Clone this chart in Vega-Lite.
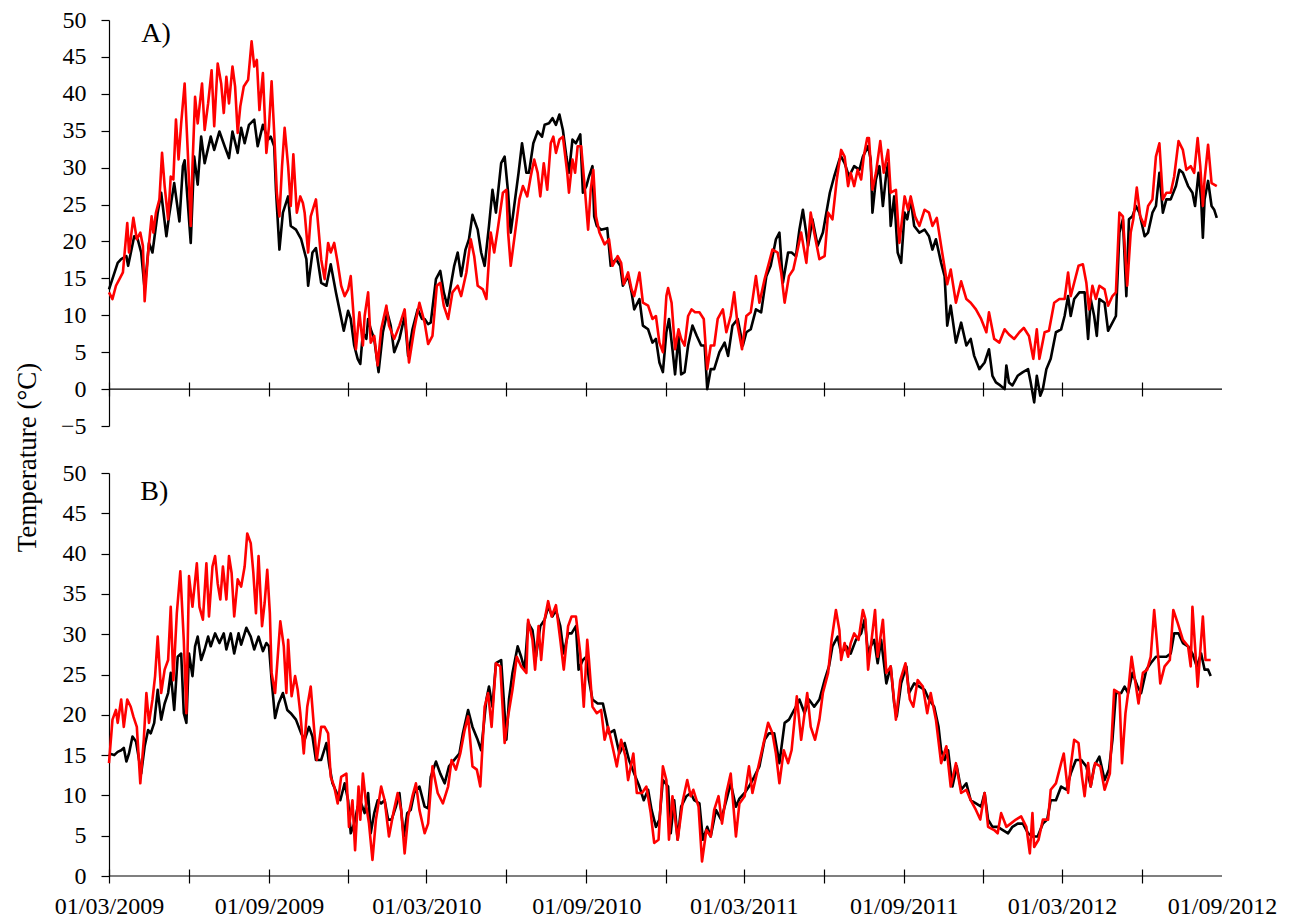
{
  "$schema": "https://vega.github.io/schema/vega-lite/v6.json",
  "background": "white",
  "padding": {"left": 13, "top": 8, "right": 5, "bottom": 5},
  "bounds": "flush",
  "spacing": 47,
  "config": {
    "view": {"stroke": null},
    "font": "Liberation Serif",
    "axis": {
      "labelFont": "Liberation Serif",
      "labelFontSize": 24,
      "labelColor": "black",
      "tickColor": "black",
      "domainColor": "black",
      "tickWidth": 1.2,
      "domainWidth": 1.2,
      "grid": false,
      "labelOverlap": false,
      "titleFont": "Liberation Serif",
      "titleFontWeight": "normal",
      "titleColor": "black"
    }
  },
  "datasets": {
    "aBlack": [{"d":0,"t":13.5},{"d":10,"t":17.1},{"d":14,"t":17.6},{"d":20,"t":18},{"d":22,"t":16.7},{"d":29,"t":20.7},{"d":33,"t":20.3},{"d":37,"t":18.5},{"d":41,"t":13.5},{"d":46,"t":19.8},{"d":50,"t":18.5},{"d":52,"t":20.3},{"d":56,"t":23.9},{"d":60,"t":26.6},{"d":66,"t":20.7},{"d":69,"t":23.4},{"d":75,"t":27.9},{"d":81,"t":22.7},{"d":85,"t":30.2},{"d":87,"t":31},{"d":94,"t":19.8},{"d":98,"t":31.5},{"d":102,"t":27.7},{"d":106,"t":34.2},{"d":110,"t":30.6},{"d":117,"t":34.2},{"d":121,"t":32.4},{"d":127,"t":34.9},{"d":133,"t":32.9},{"d":138,"t":31.3},{"d":142,"t":34.9},{"d":148,"t":32},{"d":152,"t":35.4},{"d":156,"t":33.3},{"d":161,"t":35.8},{"d":167,"t":36.5},{"d":171,"t":32.9},{"d":177,"t":35.8},{"d":183,"t":33.8},{"d":186,"t":34.2},{"d":190,"t":32.9},{"d":192,"t":27},{"d":196,"t":18.9},{"d":200,"t":23.9},{"d":206,"t":26.1},{"d":209,"t":22.1},{"d":215,"t":21.6},{"d":221,"t":20.3},{"d":227,"t":17.6},{"d":229,"t":14},{"d":234,"t":18.5},{"d":238,"t":19.1},{"d":244,"t":14.4},{"d":250,"t":14},{"d":255,"t":16.9},{"d":261,"t":13.1},{"d":265,"t":10.8},{"d":270,"t":7.9},{"d":275,"t":10.6},{"d":278,"t":9.5},{"d":282,"t":5.9},{"d":286,"t":4.1},{"d":289,"t":3.4},{"d":292,"t":7.7},{"d":296,"t":6.8},{"d":298,"t":9.5},{"d":301,"t":8.1},{"d":305,"t":6.8},{"d":310,"t":2.3},{"d":315,"t":7.7},{"d":320,"t":10.4},{"d":324,"t":8.6},{"d":328,"t":5},{"d":334,"t":6.8},{"d":340,"t":9.9},{"d":344,"t":4.5},{"d":349,"t":8.1},{"d":355,"t":10.8},{"d":360,"t":9.5},{"d":363,"t":9.5},{"d":367,"t":8.8},{"d":370,"t":9},{"d":376,"t":14.9},{"d":381,"t":16},{"d":385,"t":13.1},{"d":389,"t":11.3},{"d":393,"t":14},{"d":397,"t":16.7},{"d":401,"t":18.5},{"d":405,"t":15.3},{"d":410,"t":18.9},{"d":414,"t":20.3},{"d":418,"t":23.6},{"d":424,"t":21.6},{"d":428,"t":18.5},{"d":432,"t":16.7},{"d":437,"t":22.1},{"d":441,"t":27},{"d":445,"t":23.9},{"d":451,"t":30.6},{"d":455,"t":31.5},{"d":459,"t":26.6},{"d":462,"t":21.2},{"d":466,"t":24.8},{"d":471,"t":29.3},{"d":475,"t":33.3},{"d":480,"t":29.3},{"d":483,"t":29.3},{"d":488,"t":33.3},{"d":493,"t":34.9},{"d":498,"t":34.2},{"d":501,"t":35.8},{"d":506,"t":36},{"d":510,"t":36.7},{"d":514,"t":35.8},{"d":518,"t":37.2},{"d":522,"t":35.1},{"d":526,"t":31.5},{"d":529,"t":29.3},{"d":533,"t":33.8},{"d":537,"t":33.3},{"d":542,"t":34.5},{"d":545,"t":26.6},{"d":549,"t":27.5},{"d":552,"t":28.8},{"d":556,"t":30.2},{"d":558,"t":23.4},{"d":561,"t":22.1},{"d":566,"t":21.6},{"d":573,"t":21.8},{"d":577,"t":16.7},{"d":583,"t":17.6},{"d":588,"t":16.7},{"d":591,"t":14},{"d":597,"t":15.3},{"d":601,"t":13.1},{"d":604,"t":10.8},{"d":610,"t":12.2},{"d":614,"t":8.6},{"d":620,"t":8.1},{"d":625,"t":6.3},{"d":629,"t":6.8},{"d":633,"t":3.6},{"d":637,"t":2.3},{"d":641,"t":7.7},{"d":644,"t":9.5},{"d":648,"t":5.4},{"d":651,"t":2},{"d":655,"t":7.2},{"d":658,"t":2},{"d":662,"t":2.3},{"d":666,"t":5.9},{"d":671,"t":8.6},{"d":676,"t":7.2},{"d":681,"t":5.9},{"d":685,"t":5.9},{"d":688,"t":0},{"d":692,"t":2.7},{"d":696,"t":2.7},{"d":702,"t":5},{"d":708,"t":6.3},{"d":712,"t":4.5},{"d":717,"t":8.6},{"d":723,"t":9.5},{"d":729,"t":5.9},{"d":733,"t":7.7},{"d":738,"t":8.1},{"d":744,"t":10.8},{"d":750,"t":10.4},{"d":756,"t":15.3},{"d":761,"t":16.7},{"d":767,"t":20.3},{"d":771,"t":21.2},{"d":775,"t":14.4},{"d":781,"t":18.5},{"d":785,"t":18.5},{"d":790,"t":18},{"d":794,"t":21.6},{"d":798,"t":24.3},{"d":804,"t":19.4},{"d":809,"t":23},{"d":815,"t":19.4},{"d":821,"t":21.2},{"d":825,"t":23.9},{"d":829,"t":26.6},{"d":834,"t":28.8},{"d":840,"t":31.1},{"d":842,"t":31.5},{"d":846,"t":30.6},{"d":851,"t":28.8},{"d":857,"t":30.2},{"d":863,"t":29.7},{"d":867,"t":31.5},{"d":873,"t":32.9},{"d":876,"t":31.1},{"d":878,"t":23.9},{"d":882,"t":28.4},{"d":886,"t":30.2},{"d":890,"t":24.8},{"d":894,"t":29.3},{"d":896,"t":30.6},{"d":899,"t":22.1},{"d":903,"t":26.1},{"d":907,"t":18.5},{"d":911,"t":17.1},{"d":915,"t":23.9},{"d":918,"t":23},{"d":922,"t":25.7},{"d":926,"t":22.1},{"d":932,"t":21.2},{"d":938,"t":21.6},{"d":943,"t":20.7},{"d":947,"t":18.9},{"d":951,"t":20.3},{"d":957,"t":17.1},{"d":961,"t":15.3},{"d":964,"t":8.6},{"d":968,"t":11.3},{"d":974,"t":6.3},{"d":980,"t":9},{"d":986,"t":5.9},{"d":991,"t":6.8},{"d":995,"t":4.5},{"d":1001,"t":2.7},{"d":1007,"t":3.6},{"d":1012,"t":5.4},{"d":1016,"t":1.8},{"d":1020,"t":0.9},{"d":1025,"t":0.5},{"d":1030,"t":0},{"d":1032,"t":3.2},{"d":1035,"t":0.9},{"d":1039,"t":0.5},{"d":1045,"t":1.8},{"d":1051,"t":2.3},{"d":1057,"t":2.7},{"d":1060,"t":0.9},{"d":1064,"t":-1.8},{"d":1067,"t":1.8},{"d":1071,"t":-0.9},{"d":1074,"t":0},{"d":1078,"t":2.7},{"d":1083,"t":4.1},{"d":1089,"t":7.7},{"d":1095,"t":8.1},{"d":1099,"t":9.9},{"d":1103,"t":12.6},{"d":1106,"t":9.9},{"d":1110,"t":12.2},{"d":1116,"t":13.1},{"d":1122,"t":13.1},{"d":1126,"t":6.8},{"d":1129,"t":12.2},{"d":1133,"t":9.9},{"d":1136,"t":7.2},{"d":1139,"t":12.2},{"d":1145,"t":11.7},{"d":1149,"t":7.9},{"d":1154,"t":9},{"d":1158,"t":9.9},{"d":1162,"t":21.2},{"d":1166,"t":23},{"d":1170,"t":12.6},{"d":1173,"t":23},{"d":1177,"t":23.4},{"d":1181,"t":24.8},{"d":1185,"t":23.9},{"d":1191,"t":20.7},{"d":1195,"t":21.2},{"d":1200,"t":23.9},{"d":1204,"t":24.8},{"d":1208,"t":29.3},{"d":1212,"t":23.9},{"d":1216,"t":25.7},{"d":1221,"t":25.7},{"d":1227,"t":27.5},{"d":1231,"t":29.7},{"d":1235,"t":29.3},{"d":1241,"t":27.5},{"d":1246,"t":26.6},{"d":1249,"t":24.8},{"d":1253,"t":29.3},{"d":1256,"t":25.7},{"d":1258,"t":20.5},{"d":1260,"t":25.7},{"d":1264,"t":28.2},{"d":1268,"t":24.8},{"d":1271,"t":24.3},{"d":1274,"t":23.2}],
    "aRed": [{"d":0,"t":13.1},{"d":4,"t":12.2},{"d":8,"t":14},{"d":12,"t":14.9},{"d":16,"t":15.8},{"d":21,"t":22.5},{"d":23,"t":18.5},{"d":28,"t":23.2},{"d":32,"t":20.3},{"d":36,"t":21.2},{"d":39,"t":19.4},{"d":41,"t":11.9},{"d":45,"t":18.5},{"d":49,"t":23.4},{"d":51,"t":21.2},{"d":54,"t":23.9},{"d":58,"t":25.7},{"d":61,"t":32},{"d":64,"t":27.5},{"d":68,"t":23},{"d":71,"t":28.8},{"d":74,"t":28.4},{"d":77,"t":36.5},{"d":80,"t":31.1},{"d":83,"t":36},{"d":87,"t":41.4},{"d":91,"t":31.1},{"d":94,"t":22.1},{"d":96,"t":30.2},{"d":99,"t":39.6},{"d":102,"t":36},{"d":107,"t":41.4},{"d":110,"t":35.1},{"d":114,"t":38.7},{"d":118,"t":43.2},{"d":121,"t":35.6},{"d":125,"t":44.1},{"d":129,"t":41.4},{"d":132,"t":37.4},{"d":135,"t":42.3},{"d":138,"t":38.7},{"d":142,"t":43.7},{"d":145,"t":41},{"d":148,"t":34.7},{"d":151,"t":38.3},{"d":155,"t":41},{"d":160,"t":41.9},{"d":164,"t":47.1},{"d":167,"t":43.7},{"d":170,"t":44.6},{"d":173,"t":37.8},{"d":177,"t":42.8},{"d":181,"t":32},{"d":184,"t":35.6},{"d":187,"t":41.7},{"d":190,"t":34.7},{"d":193,"t":26.6},{"d":196,"t":23.4},{"d":199,"t":30.2},{"d":202,"t":35.4},{"d":206,"t":30.2},{"d":209,"t":24.8},{"d":212,"t":31.8},{"d":216,"t":23.9},{"d":220,"t":26.1},{"d":223,"t":25.2},{"d":225,"t":23.9},{"d":229,"t":18.5},{"d":232,"t":23.4},{"d":238,"t":25.7},{"d":244,"t":17.6},{"d":248,"t":14.9},{"d":252,"t":19.8},{"d":255,"t":18.5},{"d":259,"t":19.8},{"d":263,"t":17.1},{"d":267,"t":14},{"d":271,"t":12.6},{"d":275,"t":13.5},{"d":278,"t":15.3},{"d":281,"t":10.4},{"d":284,"t":5.4},{"d":288,"t":10.4},{"d":292,"t":5.9},{"d":294,"t":9.9},{"d":298,"t":13.1},{"d":301,"t":6.3},{"d":305,"t":7.2},{"d":309,"t":3.2},{"d":313,"t":8.1},{"d":319,"t":11.3},{"d":322,"t":8.6},{"d":328,"t":6.8},{"d":334,"t":8.6},{"d":340,"t":10.8},{"d":345,"t":3.6},{"d":351,"t":8.1},{"d":357,"t":11.7},{"d":363,"t":9},{"d":367,"t":6.1},{"d":372,"t":7.2},{"d":377,"t":14},{"d":381,"t":14.4},{"d":385,"t":11.3},{"d":390,"t":9.5},{"d":395,"t":13.1},{"d":401,"t":14},{"d":405,"t":12.6},{"d":411,"t":15.8},{"d":416,"t":20.3},{"d":420,"t":18},{"d":424,"t":14},{"d":430,"t":13.5},{"d":434,"t":12.2},{"d":439,"t":21.2},{"d":443,"t":18.5},{"d":447,"t":21.6},{"d":453,"t":26.6},{"d":457,"t":27},{"d":459,"t":21.2},{"d":462,"t":16.7},{"d":467,"t":21.2},{"d":472,"t":25.7},{"d":476,"t":27.5},{"d":481,"t":26.1},{"d":485,"t":28.8},{"d":489,"t":31.1},{"d":493,"t":29.3},{"d":496,"t":26.1},{"d":500,"t":30.6},{"d":504,"t":27},{"d":508,"t":33.3},{"d":511,"t":34.2},{"d":514,"t":32},{"d":518,"t":33.8},{"d":522,"t":34.2},{"d":527,"t":29.3},{"d":529,"t":26.6},{"d":533,"t":31.1},{"d":536,"t":29.3},{"d":539,"t":32.9},{"d":543,"t":32.9},{"d":547,"t":27.5},{"d":551,"t":21.6},{"d":554,"t":27},{"d":557,"t":29.7},{"d":560,"t":23.4},{"d":564,"t":21.2},{"d":570,"t":19.6},{"d":575,"t":20.3},{"d":579,"t":16.7},{"d":585,"t":18},{"d":589,"t":17.1},{"d":592,"t":14.2},{"d":597,"t":15.8},{"d":601,"t":13.5},{"d":604,"t":12.6},{"d":610,"t":15.8},{"d":614,"t":11.7},{"d":620,"t":11.3},{"d":625,"t":9.5},{"d":629,"t":9.9},{"d":633,"t":6.3},{"d":637,"t":5},{"d":641,"t":12.6},{"d":643,"t":13.7},{"d":647,"t":11.7},{"d":651,"t":5.4},{"d":655,"t":8.1},{"d":658,"t":6.8},{"d":662,"t":5.9},{"d":666,"t":9.9},{"d":670,"t":10.8},{"d":674,"t":10.4},{"d":679,"t":10.4},{"d":684,"t":9.5},{"d":688,"t":2.7},{"d":692,"t":5.9},{"d":696,"t":5.9},{"d":700,"t":9.5},{"d":706,"t":10.8},{"d":710,"t":7.7},{"d":715,"t":9.9},{"d":719,"t":13.1},{"d":723,"t":8.6},{"d":728,"t":5.4},{"d":733,"t":9.9},{"d":738,"t":10.4},{"d":744,"t":15.3},{"d":748,"t":11.7},{"d":754,"t":14.9},{"d":759,"t":17.1},{"d":763,"t":18.9},{"d":769,"t":18.5},{"d":773,"t":15.8},{"d":777,"t":11.7},{"d":782,"t":15.3},{"d":787,"t":16.2},{"d":792,"t":18.9},{"d":796,"t":21.2},{"d":802,"t":17.1},{"d":807,"t":23.9},{"d":811,"t":21.2},{"d":817,"t":17.6},{"d":823,"t":18},{"d":827,"t":23.9},{"d":832,"t":23},{"d":837,"t":28.4},{"d":842,"t":32.4},{"d":846,"t":31.5},{"d":850,"t":27.5},{"d":853,"t":29.3},{"d":857,"t":27.5},{"d":861,"t":29.7},{"d":865,"t":28.4},{"d":868,"t":31.5},{"d":872,"t":34},{"d":874,"t":34},{"d":878,"t":27},{"d":882,"t":29.3},{"d":887,"t":33.6},{"d":891,"t":29.3},{"d":896,"t":32.4},{"d":899,"t":26.6},{"d":905,"t":27},{"d":909,"t":19.8},{"d":915,"t":26.1},{"d":919,"t":24.3},{"d":922,"t":26.1},{"d":927,"t":23.4},{"d":932,"t":22.1},{"d":938,"t":24.3},{"d":943,"t":23.9},{"d":947,"t":22.1},{"d":952,"t":23.2},{"d":957,"t":19.4},{"d":964,"t":14.2},{"d":968,"t":16.2},{"d":974,"t":11.7},{"d":980,"t":14.6},{"d":986,"t":12.2},{"d":991,"t":11.7},{"d":997,"t":10.8},{"d":1003,"t":9.5},{"d":1009,"t":7.7},{"d":1012,"t":10.4},{"d":1018,"t":6.8},{"d":1024,"t":6.3},{"d":1030,"t":8.1},{"d":1035,"t":7.4},{"d":1041,"t":6.8},{"d":1047,"t":7.7},{"d":1052,"t":8.3},{"d":1058,"t":7.2},{"d":1063,"t":4.1},{"d":1067,"t":8.1},{"d":1070,"t":4.1},{"d":1076,"t":7.7},{"d":1081,"t":7.9},{"d":1087,"t":11.7},{"d":1093,"t":12.2},{"d":1099,"t":12.2},{"d":1103,"t":15.8},{"d":1106,"t":12.6},{"d":1110,"t":14.4},{"d":1115,"t":16.7},{"d":1120,"t":16.9},{"d":1124,"t":14.4},{"d":1127,"t":10.8},{"d":1131,"t":14},{"d":1135,"t":12.2},{"d":1139,"t":14},{"d":1145,"t":13.5},{"d":1149,"t":11.3},{"d":1154,"t":12.6},{"d":1158,"t":13.1},{"d":1162,"t":23.9},{"d":1166,"t":23.4},{"d":1171,"t":14},{"d":1175,"t":21.2},{"d":1178,"t":23},{"d":1182,"t":27.3},{"d":1186,"t":23.4},{"d":1191,"t":22.1},{"d":1195,"t":24.8},{"d":1200,"t":25.7},{"d":1204,"t":31.5},{"d":1208,"t":33.3},{"d":1212,"t":25.7},{"d":1216,"t":26.6},{"d":1221,"t":26.6},{"d":1225,"t":28.8},{"d":1230,"t":33.6},{"d":1235,"t":32.4},{"d":1239,"t":29.7},{"d":1244,"t":30.2},{"d":1248,"t":29.3},{"d":1252,"t":34},{"d":1255,"t":30.2},{"d":1258,"t":24.8},{"d":1260,"t":28.4},{"d":1264,"t":33.1},{"d":1268,"t":27.9},{"d":1274,"t":27.5}],
    "bBlack": [{"d":0,"t":15.2},{"d":6,"t":15},{"d":10,"t":15.4},{"d":14,"t":15.6},{"d":17,"t":15.9},{"d":20,"t":14.2},{"d":23,"t":15.2},{"d":27,"t":17.3},{"d":31,"t":16.7},{"d":34,"t":14.8},{"d":37,"t":12.7},{"d":41,"t":16.1},{"d":45,"t":18.1},{"d":48,"t":17.7},{"d":52,"t":19},{"d":56,"t":23.1},{"d":60,"t":19.4},{"d":64,"t":21.4},{"d":68,"t":22.7},{"d":71,"t":25.2},{"d":75,"t":20.6},{"d":79,"t":27.2},{"d":83,"t":27.6},{"d":86,"t":20.2},{"d":89,"t":19},{"d":92,"t":27.6},{"d":96,"t":24.8},{"d":99,"t":28.5},{"d":102,"t":29.7},{"d":106,"t":26.8},{"d":110,"t":28.1},{"d":114,"t":29.7},{"d":117,"t":28.5},{"d":122,"t":30.1},{"d":127,"t":28.9},{"d":132,"t":30.1},{"d":135,"t":28.1},{"d":140,"t":30.1},{"d":144,"t":27.6},{"d":149,"t":30.1},{"d":152,"t":28.7},{"d":158,"t":30.8},{"d":163,"t":29.7},{"d":167,"t":28.1},{"d":172,"t":29.7},{"d":177,"t":27.9},{"d":181,"t":28.9},{"d":184,"t":28.5},{"d":187,"t":24.3},{"d":191,"t":19.6},{"d":195,"t":21.4},{"d":200,"t":22.7},{"d":205,"t":20.6},{"d":209,"t":20.2},{"d":215,"t":19.4},{"d":221,"t":17.7},{"d":225,"t":16.9},{"d":230,"t":18.5},{"d":234,"t":17.3},{"d":238,"t":14.4},{"d":244,"t":14.4},{"d":250,"t":16.5},{"d":253,"t":14},{"d":257,"t":11.5},{"d":262,"t":10.3},{"d":266,"t":9.4},{"d":271,"t":11.5},{"d":275,"t":9.4},{"d":278,"t":5.3},{"d":282,"t":6.5},{"d":286,"t":8.6},{"d":290,"t":9},{"d":294,"t":7.8},{"d":298,"t":10.3},{"d":301,"t":5.3},{"d":305,"t":7.8},{"d":309,"t":9.4},{"d":313,"t":9},{"d":317,"t":9.4},{"d":321,"t":7},{"d":325,"t":7},{"d":330,"t":8.6},{"d":334,"t":10.3},{"d":339,"t":4.9},{"d":343,"t":7.8},{"d":347,"t":8.2},{"d":351,"t":10.3},{"d":357,"t":11.1},{"d":363,"t":8.6},{"d":367,"t":8.4},{"d":370,"t":12.3},{"d":376,"t":14.2},{"d":381,"t":12.7},{"d":386,"t":11.5},{"d":391,"t":13.6},{"d":397,"t":14.4},{"d":403,"t":15.2},{"d":407,"t":17.7},{"d":413,"t":20.6},{"d":418,"t":18.5},{"d":424,"t":16.9},{"d":428,"t":15.6},{"d":434,"t":21.9},{"d":437,"t":23.5},{"d":441,"t":21},{"d":445,"t":26.4},{"d":451,"t":26.8},{"d":457,"t":16.9},{"d":460,"t":21.9},{"d":464,"t":25.2},{"d":470,"t":28.5},{"d":474,"t":27.2},{"d":478,"t":25.6},{"d":482,"t":31.4},{"d":487,"t":30.5},{"d":491,"t":27.2},{"d":496,"t":31},{"d":501,"t":31.8},{"d":505,"t":33.4},{"d":510,"t":32.2},{"d":514,"t":33},{"d":519,"t":31},{"d":523,"t":27.6},{"d":528,"t":30.1},{"d":532,"t":30.1},{"d":537,"t":31},{"d":540,"t":25.6},{"d":545,"t":26.8},{"d":549,"t":27.2},{"d":552,"t":24.3},{"d":556,"t":21.9},{"d":562,"t":21.4},{"d":568,"t":21.4},{"d":572,"t":19.4},{"d":575,"t":17.7},{"d":581,"t":18.1},{"d":587,"t":15.2},{"d":593,"t":16.5},{"d":598,"t":14.4},{"d":604,"t":12.7},{"d":610,"t":11.1},{"d":615,"t":9.4},{"d":620,"t":10.7},{"d":624,"t":8.2},{"d":629,"t":6.1},{"d":633,"t":7},{"d":637,"t":11.9},{"d":643,"t":11.1},{"d":646,"t":5.3},{"d":650,"t":9.4},{"d":654,"t":4.5},{"d":658,"t":8.6},{"d":664,"t":9.9},{"d":669,"t":10.3},{"d":673,"t":9.4},{"d":679,"t":9},{"d":683,"t":4.5},{"d":688,"t":6.1},{"d":692,"t":4.9},{"d":698,"t":8.2},{"d":704,"t":7},{"d":710,"t":9.4},{"d":715,"t":11.5},{"d":721,"t":8.6},{"d":725,"t":9.6},{"d":731,"t":10.3},{"d":736,"t":11.1},{"d":742,"t":12.3},{"d":748,"t":13.6},{"d":754,"t":16.9},{"d":759,"t":17.7},{"d":765,"t":17.7},{"d":771,"t":14},{"d":777,"t":19},{"d":782,"t":19.4},{"d":788,"t":20.6},{"d":794,"t":21.9},{"d":800,"t":20.2},{"d":805,"t":21.9},{"d":811,"t":21},{"d":817,"t":21.9},{"d":823,"t":24.3},{"d":828,"t":26},{"d":832,"t":28.5},{"d":838,"t":29.7},{"d":842,"t":27.6},{"d":848,"t":28.5},{"d":853,"t":27.6},{"d":859,"t":29.3},{"d":865,"t":30.1},{"d":869,"t":31.8},{"d":873,"t":27.6},{"d":876,"t":28.5},{"d":880,"t":29.3},{"d":884,"t":26.4},{"d":888,"t":29.3},{"d":894,"t":23.9},{"d":899,"t":26},{"d":903,"t":21.4},{"d":906,"t":19.8},{"d":911,"t":23.9},{"d":917,"t":26},{"d":920,"t":22.7},{"d":926,"t":23.9},{"d":932,"t":23.5},{"d":938,"t":23.1},{"d":943,"t":21.9},{"d":949,"t":21},{"d":954,"t":18.5},{"d":957,"t":15.6},{"d":961,"t":14.4},{"d":965,"t":15.6},{"d":970,"t":11.1},{"d":975,"t":13.6},{"d":980,"t":10.7},{"d":986,"t":11.5},{"d":991,"t":9.4},{"d":997,"t":9},{"d":1003,"t":8.6},{"d":1007,"t":10.3},{"d":1011,"t":7},{"d":1016,"t":6.1},{"d":1022,"t":6.1},{"d":1028,"t":5.7},{"d":1034,"t":5.3},{"d":1039,"t":6.1},{"d":1045,"t":6.5},{"d":1051,"t":6.5},{"d":1057,"t":5.3},{"d":1062,"t":4.9},{"d":1068,"t":4.9},{"d":1074,"t":6.5},{"d":1079,"t":7},{"d":1083,"t":9.4},{"d":1089,"t":9.4},{"d":1095,"t":11.1},{"d":1101,"t":10.7},{"d":1106,"t":12.7},{"d":1112,"t":14.4},{"d":1118,"t":14.4},{"d":1124,"t":13.6},{"d":1129,"t":11.1},{"d":1133,"t":13.6},{"d":1139,"t":14.8},{"d":1145,"t":11.9},{"d":1150,"t":13.2},{"d":1154,"t":16.9},{"d":1158,"t":22.7},{"d":1164,"t":22.7},{"d":1168,"t":23.5},{"d":1172,"t":22.7},{"d":1177,"t":25.2},{"d":1183,"t":23.5},{"d":1187,"t":22.7},{"d":1193,"t":25.6},{"d":1198,"t":26.4},{"d":1204,"t":27.2},{"d":1210,"t":27.2},{"d":1216,"t":27.2},{"d":1221,"t":27.6},{"d":1225,"t":30.1},{"d":1230,"t":30.1},{"d":1235,"t":28.9},{"d":1241,"t":28.5},{"d":1246,"t":27.6},{"d":1251,"t":26},{"d":1256,"t":27.6},{"d":1260,"t":25.6},{"d":1264,"t":25.6},{"d":1267,"t":24.8}],
    "bRed": [{"d":0,"t":14},{"d":4,"t":19.4},{"d":8,"t":20.6},{"d":10,"t":19},{"d":14,"t":21.9},{"d":17,"t":18.5},{"d":21,"t":21.9},{"d":25,"t":21},{"d":28,"t":19.8},{"d":32,"t":18.5},{"d":36,"t":11.5},{"d":40,"t":16.9},{"d":43,"t":22.7},{"d":46,"t":19},{"d":50,"t":21.9},{"d":53,"t":24.8},{"d":56,"t":29.7},{"d":60,"t":22.7},{"d":64,"t":25.6},{"d":68,"t":26.8},{"d":71,"t":33.4},{"d":74,"t":24.3},{"d":78,"t":32.6},{"d":82,"t":37.8},{"d":86,"t":29.3},{"d":89,"t":20.2},{"d":92,"t":37.2},{"d":96,"t":33.4},{"d":101,"t":38.8},{"d":104,"t":33.4},{"d":108,"t":31.8},{"d":112,"t":38.8},{"d":115,"t":32.2},{"d":119,"t":38.4},{"d":122,"t":39.7},{"d":125,"t":36.3},{"d":128,"t":34.3},{"d":131,"t":38.4},{"d":135,"t":34.3},{"d":138,"t":39.7},{"d":141,"t":37.6},{"d":144,"t":32.2},{"d":148,"t":36.8},{"d":152,"t":35.9},{"d":156,"t":38.4},{"d":159,"t":42.5},{"d":163,"t":41.3},{"d":166,"t":37.6},{"d":169,"t":32.6},{"d":172,"t":39.7},{"d":176,"t":31},{"d":179,"t":33.9},{"d":182,"t":38},{"d":185,"t":32.6},{"d":187,"t":25.2},{"d":191,"t":22.7},{"d":197,"t":31.6},{"d":201,"t":28.5},{"d":204,"t":22.7},{"d":206,"t":29.3},{"d":210,"t":22.3},{"d":214,"t":24.8},{"d":217,"t":23.1},{"d":220,"t":20.2},{"d":224,"t":15.2},{"d":228,"t":21},{"d":232,"t":23.5},{"d":236,"t":18.1},{"d":239,"t":14.4},{"d":244,"t":18.5},{"d":248,"t":18.5},{"d":252,"t":17.7},{"d":255,"t":12.3},{"d":259,"t":11.1},{"d":263,"t":9},{"d":267,"t":12.3},{"d":273,"t":12.7},{"d":276,"t":6.1},{"d":280,"t":9.4},{"d":283,"t":3.2},{"d":287,"t":11.1},{"d":289,"t":7},{"d":292,"t":12.7},{"d":296,"t":8.6},{"d":299,"t":6.5},{"d":303,"t":2},{"d":307,"t":7},{"d":313,"t":11.1},{"d":317,"t":9.4},{"d":322,"t":4.9},{"d":327,"t":7.8},{"d":332,"t":10.3},{"d":336,"t":8.2},{"d":340,"t":2.8},{"d":344,"t":7.4},{"d":349,"t":9.9},{"d":353,"t":11.5},{"d":357,"t":8.2},{"d":363,"t":5.3},{"d":367,"t":6.5},{"d":372,"t":13.6},{"d":378,"t":10.3},{"d":384,"t":9},{"d":390,"t":11.1},{"d":394,"t":14.4},{"d":399,"t":13.2},{"d":404,"t":15.2},{"d":409,"t":18.1},{"d":413,"t":19.8},{"d":418,"t":13.6},{"d":423,"t":13.2},{"d":427,"t":11.1},{"d":432,"t":21},{"d":436,"t":22.7},{"d":440,"t":18.5},{"d":445,"t":26.4},{"d":450,"t":26},{"d":455,"t":16.5},{"d":459,"t":19.8},{"d":464,"t":23.1},{"d":469,"t":27.2},{"d":474,"t":26},{"d":480,"t":25.2},{"d":482,"t":31.8},{"d":487,"t":29.3},{"d":490,"t":25.6},{"d":494,"t":31},{"d":497,"t":26.8},{"d":501,"t":31.8},{"d":505,"t":34.1},{"d":509,"t":32.2},{"d":514,"t":33.6},{"d":519,"t":29.3},{"d":523,"t":25.6},{"d":528,"t":31},{"d":532,"t":32.2},{"d":537,"t":32.2},{"d":542,"t":27.6},{"d":546,"t":21},{"d":550,"t":29.3},{"d":552,"t":26.8},{"d":556,"t":21},{"d":561,"t":20.2},{"d":566,"t":20.6},{"d":570,"t":16.9},{"d":574,"t":18.5},{"d":579,"t":16.1},{"d":584,"t":13.6},{"d":589,"t":16.9},{"d":594,"t":14.8},{"d":597,"t":11.9},{"d":603,"t":15.2},{"d":607,"t":10.3},{"d":613,"t":10.3},{"d":618,"t":11.1},{"d":623,"t":7.8},{"d":627,"t":4.1},{"d":632,"t":4.5},{"d":637,"t":13.6},{"d":641,"t":11.9},{"d":644,"t":4.5},{"d":648,"t":9.9},{"d":654,"t":4.5},{"d":660,"t":9.4},{"d":665,"t":11.9},{"d":669,"t":9.9},{"d":672,"t":10.7},{"d":678,"t":8.6},{"d":682,"t":1.8},{"d":687,"t":5.7},{"d":692,"t":4.9},{"d":696,"t":8.2},{"d":701,"t":9.9},{"d":705,"t":6.5},{"d":710,"t":10.3},{"d":715,"t":12.7},{"d":721,"t":4.9},{"d":725,"t":9},{"d":731,"t":9.9},{"d":736,"t":13.6},{"d":740,"t":10.3},{"d":746,"t":13.2},{"d":752,"t":16.1},{"d":758,"t":19},{"d":763,"t":17.7},{"d":767,"t":15.2},{"d":771,"t":11.5},{"d":776,"t":15.6},{"d":781,"t":14},{"d":785,"t":15.6},{"d":791,"t":22.3},{"d":796,"t":16.9},{"d":803,"t":22.7},{"d":807,"t":18.5},{"d":812,"t":16.9},{"d":817,"t":19.4},{"d":821,"t":22.7},{"d":827,"t":25.2},{"d":831,"t":29.3},{"d":836,"t":33},{"d":840,"t":30.5},{"d":842,"t":26.8},{"d":846,"t":28.9},{"d":850,"t":27.2},{"d":853,"t":28.9},{"d":857,"t":30.1},{"d":862,"t":29.3},{"d":867,"t":33},{"d":870,"t":31.8},{"d":873,"t":25.6},{"d":877,"t":29.3},{"d":881,"t":33},{"d":884,"t":27.2},{"d":890,"t":31.8},{"d":894,"t":25.2},{"d":899,"t":26},{"d":905,"t":19.4},{"d":910,"t":24.3},{"d":916,"t":26.4},{"d":921,"t":21.9},{"d":925,"t":21},{"d":930,"t":24.3},{"d":936,"t":23.5},{"d":941,"t":20.2},{"d":945,"t":22.7},{"d":951,"t":19.4},{"d":957,"t":14},{"d":963,"t":16.1},{"d":968,"t":11.1},{"d":974,"t":14},{"d":980,"t":10.3},{"d":986,"t":10.7},{"d":991,"t":9.4},{"d":997,"t":8.2},{"d":1002,"t":7},{"d":1007,"t":10.3},{"d":1011,"t":6.1},{"d":1018,"t":5.7},{"d":1022,"t":5.3},{"d":1026,"t":7.8},{"d":1032,"t":6.1},{"d":1037,"t":6.5},{"d":1043,"t":7},{"d":1049,"t":7.4},{"d":1055,"t":6.1},{"d":1059,"t":2.8},{"d":1062,"t":7.8},{"d":1064,"t":3.6},{"d":1069,"t":4.5},{"d":1074,"t":7},{"d":1080,"t":7},{"d":1083,"t":10.7},{"d":1089,"t":11.5},{"d":1095,"t":14},{"d":1098,"t":15.2},{"d":1103,"t":10.3},{"d":1106,"t":13.6},{"d":1110,"t":16.9},{"d":1115,"t":16.5},{"d":1119,"t":12.3},{"d":1122,"t":9.9},{"d":1126,"t":14},{"d":1129,"t":11.1},{"d":1134,"t":14},{"d":1140,"t":13.6},{"d":1145,"t":10.7},{"d":1151,"t":12.7},{"d":1156,"t":23.1},{"d":1162,"t":22.7},{"d":1165,"t":14},{"d":1169,"t":20.2},{"d":1172,"t":22.7},{"d":1176,"t":27.2},{"d":1180,"t":24.3},{"d":1184,"t":21.4},{"d":1189,"t":25.2},{"d":1194,"t":25.6},{"d":1198,"t":27.2},{"d":1202,"t":33},{"d":1205,"t":29.3},{"d":1209,"t":23.9},{"d":1214,"t":26},{"d":1220,"t":26.8},{"d":1224,"t":33},{"d":1229,"t":31.4},{"d":1235,"t":29.3},{"d":1241,"t":28.5},{"d":1244,"t":26},{"d":1246,"t":33.4},{"d":1249,"t":28.5},{"d":1252,"t":23.5},{"d":1258,"t":32.2},{"d":1261,"t":26.8},{"d":1264,"t":26.8},{"d":1267,"t":26.8}]
  },
  "vconcat": [
    {
      "width": 1113,
      "height": 406,
      "layer": [
        {
          "data": {"values": [{}]},
          "mark": {"type": "rule", "color": "black", "strokeWidth": 1.2},
          "encoding": {
            "y": {
              "datum": 0, "type": "quantitative",
              "scale": {"domain": [-5, 50], "nice": false, "zero": false},
              "axis": {
                "values": [-5, 0, 5, 10, 15, 20, 25, 30, 35, 40, 45, 50],
                "tickCount": 30,
                "labelOverlap": false,
                "tickSize": 8, "labelPadding": 15,
                "title": "Temperature (°C)", "titleFontSize": 27,
                "titleX": -68, "titleY": 437, "titleAngle": -90,
                "titleAlign": "center", "titleBaseline": "bottom"
              }
            }
          }
        },
        {
          "data": {"name": "aBlack"},
          "mark": {"type": "line", "color": "black", "strokeWidth": 2.6, "strokeJoin": "round"},
          "encoding": {
            "x": {
              "field": "d", "type": "quantitative",
              "scale": {"domain": [0, 1280], "nice": false, "zero": false},
              "axis": {
                "orient": "bottom", "offset": -44, "tickSize": 14, "domain": false, "labels": false,
                "title": null, "tickCount": 40,
                "values": [0, 92, 184, 275, 365, 457, 549, 640, 730, 822, 914, 1005, 1096, 1188, 1280],
                "tickOpacity": {"condition": {"test": "datum.value == 1280", "value": 0}, "value": 1}
              }
            },
            "y": {
              "field": "t", "type": "quantitative",
              "scale": {"domain": [-5, 50], "nice": false, "zero": false},
              "axis": {
                "values": [-5, 0, 5, 10, 15, 20, 25, 30, 35, 40, 45, 50],
                "tickCount": 30,
                "labelOverlap": false,
                "tickSize": 8, "labelPadding": 15,
                "title": "Temperature (°C)", "titleFontSize": 27,
                "titleX": -68, "titleY": 437, "titleAngle": -90,
                "titleAlign": "center", "titleBaseline": "bottom"
              }
            }
          }
        },
        {
          "data": {"name": "aRed"},
          "mark": {"type": "line", "color": "#ff0000", "strokeWidth": 2.6, "strokeJoin": "round"},
          "encoding": {
            "x": {"field": "d", "type": "quantitative"},
            "y": {"field": "t", "type": "quantitative"}
          }
        },
        {
          "data": {"values": [{}]},
          "mark": {"type": "text", "text": "A)", "fontSize": 28, "font": "Liberation Serif", "color": "black", "align": "center", "baseline": "alphabetic"},
          "encoding": {
            "x": {"datum": 54, "type": "quantitative"},
            "y": {"datum": 47, "type": "quantitative"}
          }
        }
      ]
    },
    {
      "width": 1113,
      "height": 403,
      "layer": [
        {
          "data": {"values": [{}]},
          "mark": {"type": "rule", "color": "black", "strokeWidth": 1.2},
          "encoding": {
            "y": {
              "datum": 0, "type": "quantitative",
              "scale": {"domain": [0, 50], "nice": false, "zero": false},
              "axis": {
                "values": [0, 5, 10, 15, 20, 25, 30, 35, 40, 45, 50],
                "tickCount": 30,
                "labelOverlap": false,
                "tickSize": 8, "labelPadding": 15, "title": null
              }
            }
          }
        },
        {
          "data": {"name": "bBlack"},
          "mark": {"type": "line", "color": "black", "strokeWidth": 2.6, "strokeJoin": "round"},
          "encoding": {
            "x": {
              "field": "d", "type": "quantitative",
              "scale": {"domain": [0, 1280], "nice": false, "zero": false},
              "axis": {
                "orient": "bottom", "offset": -7, "tickSize": 14, "domain": false,
                "labelPadding": 11, "labelFlush": false, "labelOverlap": false,
                "title": null, "tickCount": 40,
                "values": [0, 92, 184, 275, 365, 457, 549, 640, 730, 822, 914, 1005, 1096, 1188, 1280],
                "tickOpacity": {"condition": {"test": "datum.value == 1280", "value": 0}, "value": 1},
                "labelExpr": "indexof([0,184,365,549,730,914,1096,1280], datum.value) >= 0 ? timeFormat(datetime(2009, 2, 1 + datum.value), '%d/%m/%Y') : ''"
              }
            },
            "y": {
              "field": "t", "type": "quantitative",
              "scale": {"domain": [0, 50], "nice": false, "zero": false},
              "axis": {
                "values": [0, 5, 10, 15, 20, 25, 30, 35, 40, 45, 50],
                "tickCount": 30,
                "labelOverlap": false,
                "tickSize": 8, "labelPadding": 15, "title": null
              }
            }
          }
        },
        {
          "data": {"name": "bRed"},
          "mark": {"type": "line", "color": "#ff0000", "strokeWidth": 2.6, "strokeJoin": "round"},
          "encoding": {
            "x": {"field": "d", "type": "quantitative"},
            "y": {"field": "t", "type": "quantitative"}
          }
        },
        {
          "data": {"values": [{}]},
          "mark": {"type": "text", "text": "B)", "fontSize": 28, "font": "Liberation Serif", "color": "black", "align": "center", "baseline": "alphabetic"},
          "encoding": {
            "x": {"datum": 52, "type": "quantitative"},
            "y": {"datum": 46.6, "type": "quantitative"}
          }
        }
      ]
    }
  ]
}
